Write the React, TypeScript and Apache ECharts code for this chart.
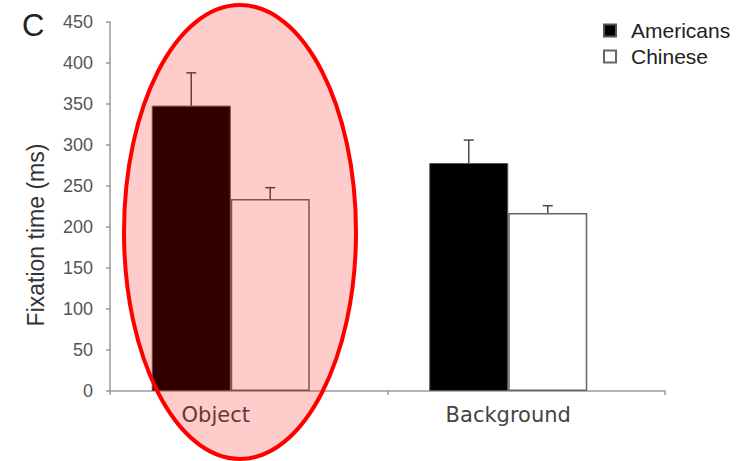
import React, { useEffect, useRef } from "react";
import * as echarts from "echarts";

const categories = ["Object", "Background"];
const seriesNames = ["Americans", "Chinese"];
const americans = [348, 278];
const chinese = [234, 217];
const americansErr = [40, 28];
const chineseErr = [14, 9];
const yTicks = { min: 0, max: 450, interval: 50 };

const FONT = "Liberation Sans, Arial, sans-serif";
const WIDE = "DejaVu Sans, sans-serif";

function errSeries(name: string, values: number[], errs: number[], offset: number) {
  return {
    type: "custom",
    name: name + " error",
    xAxisIndex: 1,
    yAxisIndex: 1,
    z: 5,
    silent: true,
    data: values.map((v, i) => [i, v, v + errs[i]]),
    renderItem: (params: any, api: any) => {
      const lo = api.coord([api.value(0), api.value(1)]);
      const hi = api.coord([api.value(0), api.value(2)]);
      const x = lo[0] + offset;
      const style = { stroke: "#4a4a4a", lineWidth: 1.5 };
      return {
        type: "group",
        children: [
          { type: "line", shape: { x1: x, y1: lo[1], x2: x, y2: hi[1] }, style },
          { type: "line", shape: { x1: x - 5, y1: hi[1], x2: x + 5, y2: hi[1] }, style },
        ],
      };
    },
  };
}

export default function App() {
  const ref = useRef<HTMLDivElement>(null);
  useEffect(() => {
    if (!ref.current) return;
    const chart = echarts.init(ref.current, undefined, { renderer: "svg" });
    chart.setOption({
      animation: false,
      backgroundColor: "#ffffff",
      grid: [
        { left: 110, right: 89, top: 22, bottom: 70 },
        { left: 92, right: 107, top: 22, bottom: 70 },
      ],
      legend: {
        orient: "vertical",
        left: 598,
        top: 15,
        itemWidth: 12,
        itemHeight: 12,
        itemGap: 5,
        icon: "rect",
        data: seriesNames,
        textStyle: { fontFamily: FONT, fontSize: 21, color: "#222", padding: [0, 0, 0, 10] },
      },
      xAxis: [
        {
          type: "category",
          gridIndex: 0,
          data: categories,
          boundaryGap: true,
          axisLine: { show: true, lineStyle: { color: "#9a9a9a", width: 1.5 } },
          axisTick: { show: true, alignWithLabel: false, length: 4, lineStyle: { color: "#9a9a9a", width: 1.5 } },
          axisLabel: { show: false },
          splitLine: { show: false },
        },
        {
          type: "category",
          gridIndex: 1,
          data: categories,
          axisLine: { show: false },
          axisTick: { show: false },
          axisLabel: {
            show: true,
            margin: 13,
            fontFamily: WIDE,
            fontSize: 21,
            color: "#444",
            formatter: (v: string) => (v === "Object" ? "{o|" + v + "}" : "{b|" + v + "}"),
            rich: {
              o: { fontFamily: WIDE, fontSize: 21, color: "#444", padding: [0, 30, 0, 0] },
              b: { fontFamily: WIDE, fontSize: 21, color: "#444" },
            },
          },
          splitLine: { show: false },
        },
      ],
      yAxis: [
        {
          type: "value",
          gridIndex: 0,
          min: yTicks.min,
          max: yTicks.max,
          interval: yTicks.interval,
          axisLine: { show: true, lineStyle: { color: "#9a9a9a", width: 1.5 } },
          axisTick: { show: true, length: 4, lineStyle: { color: "#9a9a9a", width: 1.5 } },
          axisLabel: { margin: 17, fontFamily: FONT, fontSize: 18, color: "#555" },
          splitLine: { show: false },
        },
        {
          type: "value",
          gridIndex: 1,
          min: yTicks.min,
          max: yTicks.max,
          interval: yTicks.interval,
          show: false,
          splitLine: { show: false },
        },
      ],
      series: [
        {
          type: "bar",
          name: "Americans",
          xAxisIndex: 1,
          yAxisIndex: 1,
          data: americans,
          barWidth: 79,
          barGap: "0%",
          itemStyle: { color: "#000000", borderColor: "#555", borderWidth: 1 },
          z: 3,
        },
        {
          type: "bar",
          name: "Chinese",
          xAxisIndex: 1,
          yAxisIndex: 1,
          data: chinese,
          barWidth: 79,
          barGap: "0%",
          itemStyle: { color: "#ffffff", borderColor: "#666", borderWidth: 1.5 },
          z: 3,
        },
        errSeries("Americans", americans, americansErr, -39.5),
        errSeries("Chinese", chinese, chineseErr, 39.5),
      ],
      graphic: [
        {
          type: "text",
          left: 22,
          top: 10,
          style: { text: "C", fontFamily: FONT, fontSize: 31, fill: "#222" },
        },
        {
          type: "text",
          x: 36,
          y: 235,
          rotation: Math.PI / 2,
          style: {
            text: "Fixation time (ms)",
            fontFamily: FONT,
            fontSize: 23,
            fill: "#333",
            textAlign: "center",
            textVerticalAlign: "middle",
          },
        },
        {
          type: "ellipse",
          z: 100,
          shape: { cx: 240, cy: 232, rx: 116, ry: 227 },
          style: { fill: "rgba(255,0,0,0.2)", stroke: "#ff0000", lineWidth: 4 },
        },
      ],
    });
    return () => chart.dispose();
  }, []);
  return <div ref={ref} style={{ width: 754, height: 461, position: "absolute", left: 0, top: 0 }} />;
}
